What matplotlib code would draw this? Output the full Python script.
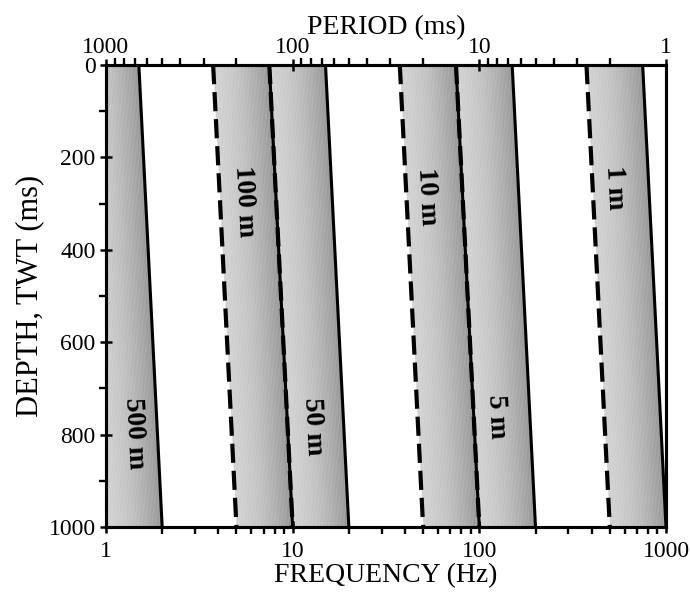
import numpy as np
import matplotlib
matplotlib.use("Agg")
import matplotlib.pyplot as plt
from matplotlib.ticker import NullFormatter, FuncFormatter

# ---- data ----
depth_ms = [0, 1000]                       # TWT depth at top and bottom
band_labels = ["500 m", "100 m", "50 m", "10 m", "5 m", "1 m"]
dashed_top = [0.75, 3.75, 7.5, 37.5, 75, 375]      # Hz at 0 ms
dashed_bot = [1.0, 5.0, 10.0, 50.0, 100.0, 500.0]  # Hz at 1000 ms
solid_top = [1.5, 7.5, 15.0, 75.0, 150.0, 750.0]
solid_bot = [2.0, 10.0, 20.0, 100.0, 200.0, 1000.0]
label_freq = [1.42, 5.5, 12.9, 52.7, 124.0, 533.0]
label_depth = [797, 295, 783, 285, 762, 265]
freq_ticks = [1, 10, 100, 1000]
period_ticks = [1000, 100, 10, 1]
depth_ticks = [0, 200, 400, 600, 800, 1000]
decades = [1, 10, 100]
sub_steps = [2, 3, 4, 5, 6, 7, 8, 9]

plt.rcParams['font.family'] = ['Liberation Serif', 'DejaVu Serif']

fig = plt.figure(figsize=(6.90, 6.06), dpi=100)
ax = fig.add_axes([0.1536, 0.1304, 0.9652 - 0.1536, 0.8927 - 0.1304])
ax.set_xscale('log')
ax.set_xlim(1, 1000)
ax.set_ylim(1000, 0)

# gradient-shaded bands (light at left, darker near the solid line)
nstrip = 40
for i in range(len(band_labels)):
    lt, lb = np.log10(dashed_top[i]), np.log10(dashed_bot[i])
    rt, rb = np.log10(solid_top[i]), np.log10(solid_bot[i])
    for k in range(nstrip):
        a, b = k / nstrip, (k + 1) / nstrip
        x0 = [10 ** (lt + (rt - lt) * a), 10 ** (lb + (rb - lb) * a)]
        x1 = [10 ** (lt + (rt - lt) * b), 10 ** (lb + (rb - lb) * b)]
        g = 0.82 - 0.24 * a ** 1.6
        ax.fill_betweenx(depth_ms, x0, x1, color=(g, g, g), linewidth=0.3,
                         edgecolor=(g, g, g), zorder=1)

for i in range(len(band_labels)):
    ax.plot([dashed_top[i], dashed_bot[i]], depth_ms, color='black', lw=3.0,
            linestyle=(0, (4.6, 1.9)), zorder=3, solid_capstyle='butt')
    ax.plot([solid_top[i], solid_bot[i]], depth_ms, color='black', lw=2.2,
            zorder=4)
    ax.text(label_freq[i], label_depth[i], band_labels[i], rotation=-87,
            ha='center', va='center', fontsize=20, fontweight='bold',
            zorder=5, rotation_mode='anchor')

minor_pos = [d * s for d in decades for s in sub_steps]

# axes styling
for s in ax.spines.values():
    s.set_linewidth(2.2)
ax.set_xticks(freq_ticks)
ax.set_xticks(minor_pos, minor=True)
ax.xaxis.set_major_formatter(FuncFormatter(lambda v, p: f"{v:g}"))
ax.xaxis.set_minor_formatter(NullFormatter())
ax.set_yticks(depth_ticks)
ax.set_yticks(np.arange(0, 1001, 100), minor=True)
ax.tick_params(axis='both', which='major', labelsize=17, width=1.8,
               length=8, direction='inout')
ax.tick_params(axis='both', which='minor', width=1.7, length=5,
               direction='out')
ax.tick_params(axis='x', which='major', pad=6)
ax.set_xlabel("FREQUENCY (Hz)", fontsize=20, labelpad=1)
ax.set_ylabel("DEPTH, TWT (ms)", fontsize=22, labelpad=3)

# top axis: period (ms) = 1000 / f
top = ax.twiny()
top.set_xscale('log')
top.set_xlim(1000.0 / ax.get_xlim()[0], 1000.0 / ax.get_xlim()[1])
top.set_xticks(period_ticks)
top.set_xticks(minor_pos, minor=True)
top.xaxis.set_major_formatter(FuncFormatter(lambda v, p: f"{v:g}"))
top.xaxis.set_minor_formatter(NullFormatter())
top.tick_params(axis='x', which='major', labelsize=17, width=1.8, length=8,
                direction='inout', pad=1)
top.tick_params(axis='x', which='minor', width=1.7, length=5, direction='out')
for s in top.spines.values():
    s.set_linewidth(2.2)
top.set_xlabel("PERIOD (ms)", fontsize=20, labelpad=2)

fig.savefig("out.png", dpi=100)
